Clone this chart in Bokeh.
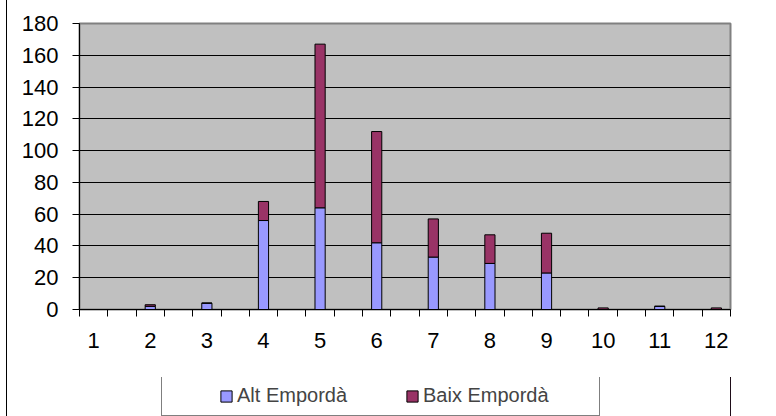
from bokeh.plotting import figure
from bokeh.layouts import column
from bokeh.models import Range1d, FixedTicker, ColumnDataSource, Legend, LegendItem
from bokeh.embed import file_html
from bokeh.resources import INLINE

# ---- data ----
categories = [1, 2, 3, 4, 5, 6, 7, 8, 9, 10, 11, 12]
alt_emporda = [0, 2, 4, 56, 64, 42, 33, 29, 23, 0, 2, 0]
baix_emporda = [0, 1, 0, 12, 103, 70, 24, 18, 25, 1, 0, 1]
series_names = ["Alt Empordà", "Baix Empordà"]
y_ticks = [0, 20, 40, 60, 80, 100, 120, 140, 160, 180]

FONT = "Liberation Sans"
COLORS = ["#9999FF", "#993366"]

# each category occupies two slots on the axis; bars sit in the first slot
x_pos = [2 * c - 2 for c in categories]
n_slots = 2 * len(categories) - 1
boundaries = [b - 0.5 for b in range(0, n_slots + 1)]

src = ColumnDataSource(dict(x=x_pos, alt=alt_emporda, baix=baix_emporda))

BORDER_L, BORDER_R = 72, 46

p = figure(width=769, height=377, output_backend="svg", toolbar_location=None,
           x_range=Range1d(-0.5, n_slots - 0.5), y_range=Range1d(0, 180),
           min_border_left=BORDER_L, min_border_right=BORDER_R,
           min_border_top=23, min_border_bottom=68,
           background_fill_color="#C0C0C0", border_fill_color="white")

rs = p.vbar_stack(["alt", "baix"], x="x", width=0.36, source=src,
                  fill_color=COLORS, line_color="black", line_width=1)

p.outline_line_color = "#808080"
p.outline_line_width = 2

# y axis
p.yaxis.ticker = FixedTicker(ticks=y_ticks, minor_ticks=[])
p.yaxis.axis_line_color = "black"
p.yaxis.major_tick_line_color = "black"
p.yaxis.major_tick_out = 7
p.yaxis.major_tick_in = 0
p.yaxis.minor_tick_line_color = None
p.yaxis.major_label_standoff = 14
p.yaxis.major_label_text_font = FONT
p.yaxis.major_label_text_font_size = "22px"
p.yaxis.major_label_text_color = "black"

# x axis
p.xaxis.ticker = FixedTicker(ticks=x_pos, minor_ticks=boundaries)
p.xaxis.major_label_overrides = {x: str(c) for x, c in zip(x_pos, categories)}
p.xaxis.axis_line_color = "black"
p.xaxis.major_tick_line_color = None
p.xaxis.major_tick_out = 0
p.xaxis.major_tick_in = 0
p.xaxis.minor_tick_line_color = "black"
p.xaxis.minor_tick_out = 7
p.xaxis.minor_tick_in = 0
p.xaxis.major_label_standoff = 16
p.xaxis.major_label_text_font = FONT
p.xaxis.major_label_text_font_size = "22px"
p.xaxis.major_label_text_color = "black"

p.xgrid.grid_line_color = None
p.ygrid.ticker = FixedTicker(ticks=y_ticks)
p.ygrid.grid_line_color = "black"
p.ygrid.grid_line_width = 1

# ---- legend strip (same series drawn off-range, only the legend shows) ----
lg = figure(width=769, height=39, output_backend="svg", toolbar_location=None,
            x_range=Range1d(-100, -99), y_range=Range1d(0, 1),
            x_axis_location=None, y_axis_location=None,
            min_border_left=BORDER_L, min_border_right=BORDER_R,
            min_border_top=0, min_border_bottom=0,
            background_fill_color="white", border_fill_color="white")
lg.outline_line_color = None
lg.xgrid.visible = False
lg.ygrid.visible = False
lr = lg.vbar_stack(["alt", "baix"], x="x", width=0.36, source=src,
                   fill_color=COLORS, line_color="black", line_width=1)

legend = Legend(items=[LegendItem(label=series_names[0], renderers=[lr[0]]),
                       LegendItem(label=series_names[1], renderers=[lr[1]])],
                orientation="horizontal", location=(82, 0),
                padding=8, spacing=0, margin=0,
                glyph_width=14, glyph_height=14, label_standoff=4, label_width=168,
                label_text_font=FONT, label_text_font_size="20px",
                border_line_color="black", border_line_width=1,
                background_fill_color="white", background_fill_alpha=1,
                title=" ", title_location="left", title_text_font_size="1px",
                title_standoff=48)
lg.add_layout(legend, "center")

layout = column(p, lg, spacing=0)
layout.margin = (0, 0, 0, 7)
layout.styles = {"outline": "1px solid black"}

open("out.html", "w").write(file_html(layout, INLINE))
